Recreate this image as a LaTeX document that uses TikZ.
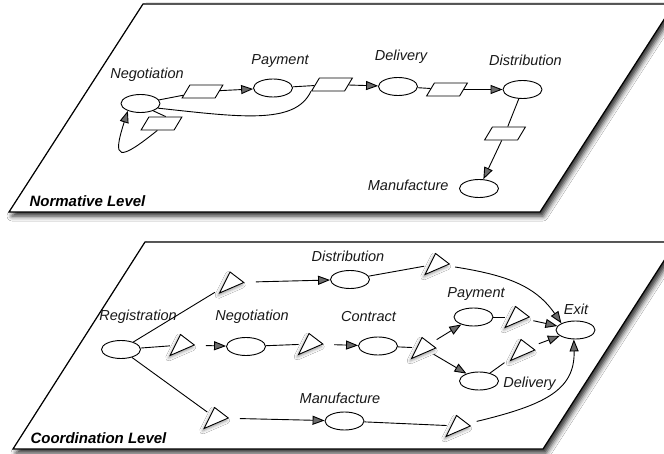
\documentclass[tikz,border=0pt]{standalone}
\usepackage{fontspec}
\setmainfont{Liberation Sans}
\usetikzlibrary{arrows.meta,shapes.geometric,shadows.blur}

\tikzset{
  plane/.style={draw=black, line width=1.2pt, fill=white,
    blur shadow={shadow xshift=3pt, shadow yshift=-4pt, shadow blur radius=5pt, shadow opacity=85}},
  state/.style={ellipse, draw, line width=0.9pt, fill=white, inner sep=0pt,
    minimum width=39pt, minimum height=18pt},
  token/.style={rectangle, draw, line width=0.9pt, fill=white, inner sep=0pt,
    minimum width=33pt, minimum height=13pt, xslant=0.6},
  gate/.style={isosceles triangle, isosceles triangle stretches, draw, line width=0.9pt,
    fill=white, inner sep=0pt, minimum width=21pt, minimum height=19pt,
    xslant=0.5, outer sep=5pt,
    blur shadow={shadow xshift=-1.5pt, shadow yshift=-2.5pt, shadow blur radius=3pt, shadow opacity=40}},
  lbl/.style={font=\fontsize{14.5}{16}\selectfont\itshape, text=black!90},
  level/.style={font=\fontsize{15}{17}\selectfont\bfseries\itshape, anchor=west},
  conn/.style={line width=0.9pt},
  arr/.style={line width=0.9pt, -{Triangle[length=12pt,width=9pt]}},
}

\begin{document}
\begin{tikzpicture}[x=1pt, y=-1pt]
\path[use as bounding box, clip] (0,0) rectangle (664,454);
\fill[white] (0,0) rectangle (664,454);

% ---- the two planes ----
\draw[plane] (143,4) -- (674,4) -- (540,212) -- (9,212) -- cycle;
\draw[plane] (145,242) -- (676,242) -- (543,449) -- (13,449) -- cycle;

% ---- normative level ----
\node[state] (neg)  at (140.5,103.5) {};
\node[state] (pay)  at (273,88) {};
\node[state] (del)  at (398,86.5) {};
\node[state] (dist) at (522.5,89.5) {};
\node[state] (manu) at (479,188.5) {};

\node[token] (r1) at (202.5,91.5) {};
\node[token] (r2) at (332,84.5) {};
\node[token] (r3) at (447,89.5) {};
\node[token] (r4) at (505,133.5) {};
\node[token] (rb) at (161.5,123.5) {};

\node[lbl] (negL)  at (147,75) {Negotiation};
\node[lbl] (payL)  at (280,61) {Payment};
\node[lbl] (delL)  at (401,57) {Delivery};
\node[lbl] (distL) at (525.5,60) {Distribution};
\node[lbl, anchor=east] (manuL) at (452,185) {Manufacture};
\node[level] (normL) at (26,201) {Normative Level};

\draw[conn] (neg) -- (r1);
\draw[arr]  (r1) -- (pay);
\draw[conn] (pay) -- (r2);
\draw[arr]  (r2) -- (del);
\draw[conn] (neg.-15) .. controls (240,117) and (295,125) .. (r2.south west);
\draw[conn] (del) -- (r3);
\draw[arr]  (r3) -- (dist);
\draw[conn] (dist) -- (r4);
\draw[arr]  (r4) -- (manu);
\draw[conn] (neg.-30) -- (rb.north);
\draw[arr]  (rb.south) .. controls (118,162) and (112,160) .. (neg.-150);

% ---- coordination level ----
\node[state] (reg)   at (121,349.5) {};
\node[state] (bneg)  at (246,346.5) {};
\node[state] (bdist) at (350,279.5) {};
\node[state] (con)   at (378,346) {};
\node[state] (bpay)  at (473.5,317) {};
\node[state] (bdel)  at (479,381) {};
\node[state] (exit)  at (575.5,330) {};
\node[state] (bman)  at (344.5,421) {};

\node[gate] (t1) at (231,282.5) {};
\node[gate] (t2) at (181.5,345) {};
\node[gate] (t3) at (310,344) {};
\node[gate] (t4) at (215.5,418) {};
\node[gate] (t5) at (436.5,264) {};
\node[gate] (t6) at (423,348) {};
\node[gate] (t7) at (516.5,317) {};
\node[gate] (t8) at (522,350) {};
\node[gate] (t9) at (457.5,426) {};

\node[lbl] (regL)   at (138,317) {Registration};
\node[lbl] (bnegL)  at (252,317) {Negotiation};
\node[lbl] (bdistL) at (348,256) {Distribution};
\node[lbl] (conL)   at (368.5,317) {Contract};
\node[lbl] (bpayL)  at (476,294) {Payment};
\node[lbl] (bdelL)  at (529.5,384) {Delivery};
\node[lbl] (exitL)  at (576,309) {Exit};
\node[lbl] (bmanL)  at (340,398) {Manufacture};
\node[level] (coordL) at (27,438) {Coordination Level};

\draw[conn] (reg) -- (t1);
\draw[arr]  (t1) -- (bdist);
\draw[conn] (bdist) -- (t5);
\draw[arr]  (t5) .. controls (505,275) and (535,285) .. (exit.north west);
\draw[conn] (reg) -- (t2);
\draw[arr]  (t2) -- (bneg);
\draw[conn] (bneg) -- (t3);
\draw[arr]  (t3) -- (con);
\draw[conn] (con) -- (t6);
\draw[arr]  (t6) -- (bpay);
\draw[arr]  (t6) -- (bdel);
\draw[conn] (bpay) -- (t7);
\draw[arr]  (t7) -- (exit);
\draw[conn] (bdel) -- (t8);
\draw[arr]  (t8) -- (exit);
\draw[conn] (reg) -- (t4);
\draw[arr]  (t4) -- (bman);
\draw[conn] (bman) -- (t9);
\draw[arr]  (t9) .. controls (545,405) and (575,390) .. (exit.-100);
\end{tikzpicture}
\end{document}
